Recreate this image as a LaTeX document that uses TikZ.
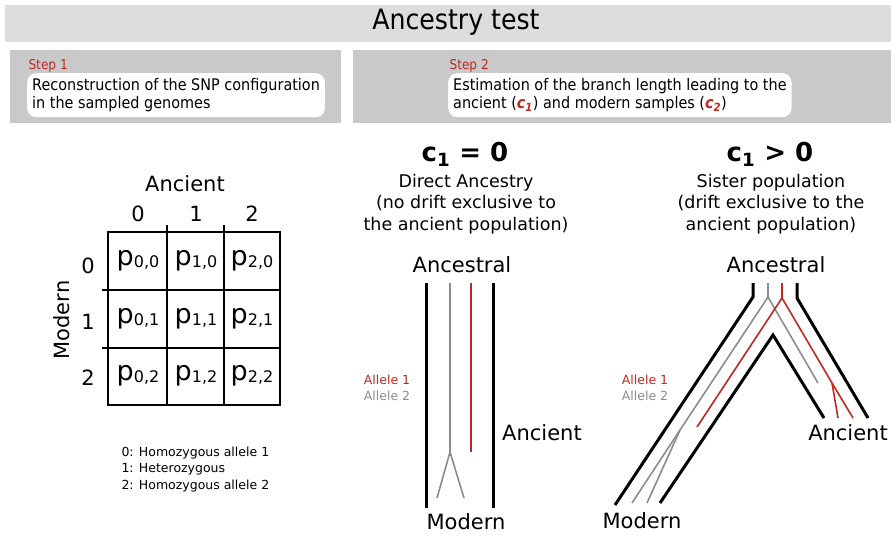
\documentclass[tikz,border=0pt]{standalone}
\usepackage{fontspec}
\setmainfont{DejaVu Sans}
\newfontfamily\narrowfont{DejaVu Sans}[FakeStretch=0.9]
\usetikzlibrary{positioning}
\usepackage{xcolor}
\definecolor{banner}{RGB}{221,221,223}
\definecolor{panel}{RGB}{201,201,202}
\definecolor{allele-one}{RGB}{192,40,30}
\definecolor{allele-two}{RGB}{140,140,140}
\newcommand{\pcell}[2]{p{\fontsize{16}{16}\selectfont\raisebox{-2pt}{#1,#2}}}

\begin{document}
\begin{tikzpicture}[x=1pt,y=-1pt,
	lineage/.style={line width=3pt},
	redallele/.style={allele-one,line width=1.6pt},
	grayallele/.style={allele-two,line width=1.6pt},
	grid/.style={line width=1.3pt},
	label/.style={font=\fontsize{21}{24}\selectfont},
	heading/.style={font=\bfseries\fontsize{26}{28}\selectfont},
	subheading/.style={align=center,font=\fontsize{17.5}{21.5}\selectfont},
	legend/.style={align=left,font=\fontsize{12.5}{16.5}\selectfont},
	steplabel/.style={anchor=west,text=allele-one,font=\narrowfont\fontsize{13.5}{16}\selectfont},
	stepbox/.style={fill=white,rounded corners=9pt,inner sep=5pt,align=left,anchor=north west,minimum height=44,font=\narrowfont\fontsize{16}{18}\selectfont}]
	\useasboundingbox (0,0) rectangle (891,536);
	% header and the two steps
	\fill[banner] (5,5) rectangle (891,42);
	\fill[panel] (10,50) rectangle (341,123);
	\fill[panel] (353,50) rectangle (891,123);
	\node[font=\narrowfont\fontsize{28}{30}\selectfont] (title) at (456,22) {Ancestry test};
	\node[steplabel] (step1) at (25,66) {Step 1};
	\node[stepbox,minimum width=295] (recon) at (27,73) {Reconstruction of the SNP configuration\\in the sampled genomes};
	\node[steplabel] (step2) at (446,66) {Step 2};
	\node[stepbox,minimum width=332] (estim) at (448,73) {Estimation of the branch length leading to the\\ancient ({\color{allele-one}\bfseries\itshape c\textsubscript{1}}) and modern samples ({\color{allele-one}\bfseries\itshape c\textsubscript{2}})};
	% SNP configuration table
	\draw[grid] (108,232) rectangle (280,405);
	\foreach \x in {167,224} \draw[grid] (\x,225) -- (\x,405);
	\foreach \y in {290,348} \draw[grid] (102,\y) -- (280,\y);
	\foreach \i/\x in {0/138,1/196,2/252}{
		\node[label] (col\i) at (\x,214) {\i};
		\foreach \j/\y in {0/261,1/319,2/376}
			\node[font=\fontsize{27}{28}\selectfont] (p\i\j) at (\x,\y) {\pcell{\i}{\j}};
	}
	\foreach \j/\y in {0/266,1/322,2/378} \node[label] (row\j) at (88,\y) {\j};
	\node[label] (ancient-axis) at (185,184) {Ancient};
	\node[label,rotate=90] (modern-axis) at (62,320) {Modern};
	\node[legend,anchor=north west] (key) at (118,443) {0: Homozygous allele 1\\1: Heterozygous\\2: Homozygous allele 2};
	% c1 = 0
	\node[heading] (eqzero) at (465,154) {c\textsubscript{1} = 0};
	\node[subheading] (direct) at (466,204) {Direct Ancestry\\(no drift exclusive to\\the ancient population)};
	\node[label] (ancestral-l) at (462,265) {Ancestral};
	\node[label] (ancient-l) at (542,433) {Ancient};
	\node[label] (modern-l) at (466,522) {Modern};
	\node[legend] (alleles-l) at (387,388) {{\color{allele-one}Allele 1}\\{\color{allele-two}Allele 2}};
	\draw[lineage] (426,283) -- (426,508);
	\draw[lineage] (493,283) -- (493,508);
	\draw[grayallele] (450,283) -- (450,452) coordinate (split-l) -- (437,498);
	\draw[grayallele] (split-l) -- (464,498);
	\draw[redallele] (471,283) -- (471,452);
	% c1 > 0
	\node[heading] (gtzero) at (770,154) {c\textsubscript{1} > 0};
	\node[subheading] (sister) at (771,204) {Sister population\\(drift exclusive to the\\ancient population)};
	\node[label] (ancestral-r) at (776,265) {Ancestral};
	\node[label] (ancient-r) at (848,433) {Ancient};
	\node[label] (modern-r) at (642,521) {Modern};
	\node[legend] (alleles-r) at (645,388) {{\color{allele-one}Allele 1}\\{\color{allele-two}Allele 2}};
	\draw[lineage] (753,283) -- (753,297) -- (615,505);
	\draw[lineage] (797,283) -- (797,298) -- (868,418);
	\draw[lineage] (660,503) -- (773,335) -- (824,418);
	\draw[grayallele] (768,283) -- (768,297) coordinate (apex-g) -- (680,430) coordinate (split-g) -- (632,503);
	\draw[grayallele] (split-g) -- (647,503);
	\draw[grayallele] (apex-g) -- (818,383);
	\draw[redallele] (782,283) -- (782,298) coordinate (apex-r) -- (697,427);
	\draw[redallele] (apex-r) -- (832,383) coordinate (split-r) -- (853,418);
	\draw[redallele] (split-r) -- (838,418);
\end{tikzpicture}
\end{document}
